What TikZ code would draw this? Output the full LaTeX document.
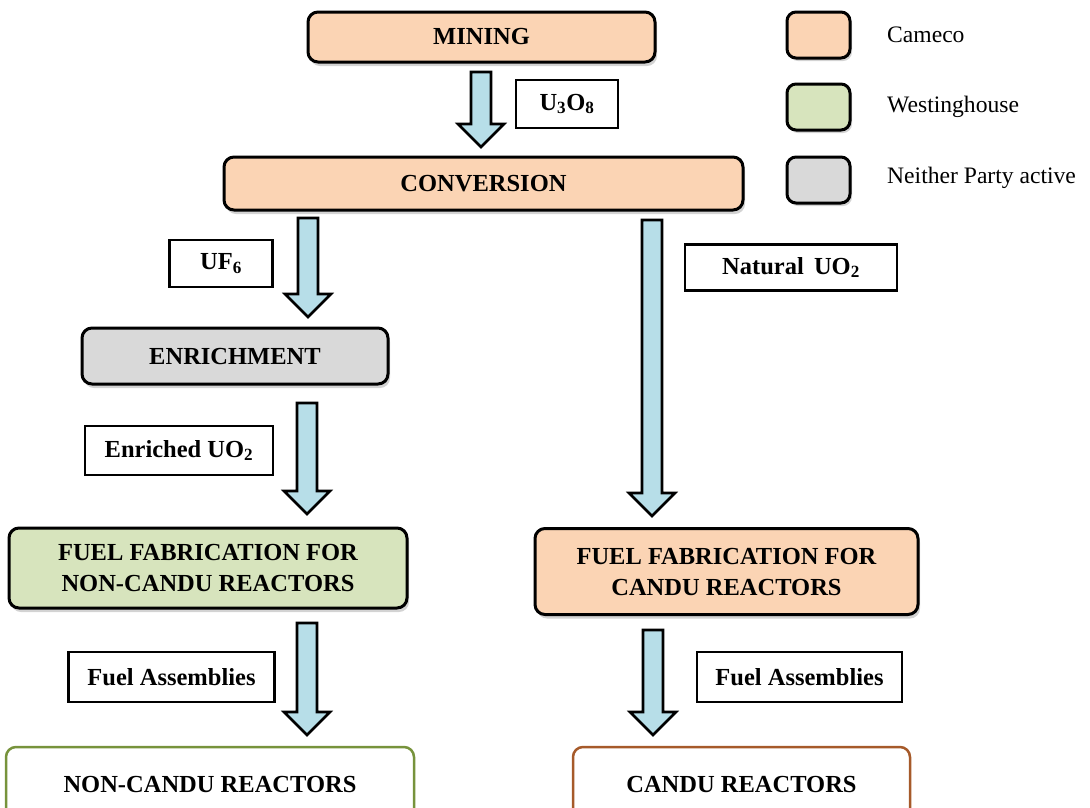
\documentclass[tikz,border=0pt]{standalone}
\usepackage{fontspec}
\setmainfont{Liberation Serif}
\usetikzlibrary{calc,shadows}
\definecolor{cam}{HTML}{FBD4B4}
\definecolor{wes}{HTML}{D7E4BD}
\definecolor{nei}{HTML}{D9D9D9}
\definecolor{arr}{HTML}{B7DEE8}
\definecolor{olive}{HTML}{77933C}
\definecolor{brownb}{HTML}{A65A2A}
\tikzset{
  proc/.style={draw=black, line width=3pt, rounded corners=10pt, align=center, inner sep=0pt,
    font=\fontsize{24.5}{31}\selectfont\bfseries,
    drop shadow={shadow xshift=2pt, shadow yshift=-4pt, opacity=0.35}},
  lbl/.style={draw=black, line width=2.2pt, fill=white, inner sep=0pt,
    font=\fontsize{24.5}{28}\selectfont\bfseries},
  endbox/.style={line width=2.5pt, rounded corners=10pt, fill=white, inner sep=0pt,
    font=\fontsize{24.5}{28}\selectfont\bfseries},
  legbox/.style={draw=black, line width=3pt, rounded corners=9pt, minimum width=63pt, minimum height=46pt,
    drop shadow={shadow xshift=2pt, shadow yshift=-3pt, opacity=0.35}},
  legtxt/.style={anchor=west, inner sep=0pt, font=\fontsize{23.6}{27}\selectfont},
  barrow/.style={draw=black, fill=arr, line width=2.6pt, line join=miter}
}
\newcommand\blockarrow[2]{\draw[barrow] let \p1=(#1), \p2=(#2) in
  (\x1-10pt,\y1) -- (\x1+10pt,\y1) -- (\x1+10pt,\y2+23pt) -- (\x1+23pt,\y2+23pt)
  -- (\x1,\y2) -- (\x1-23pt,\y2+23pt) -- (\x1-10pt,\y2+23pt) -- cycle;}
\begin{document}
\begin{tikzpicture}[x=1pt,y=-1pt]
\useasboundingbox (0,0) rectangle (1090,807);
% main boxes
\node[proc, fill=cam, minimum width=347pt, minimum height=50pt] (mining) at (481.5,37) {MINING};
\node[proc, fill=cam, minimum width=519pt, minimum height=53pt] (conv) at (483.5,183.5) {CONVERSION};
\node[proc, fill=nei, minimum width=306pt, minimum height=56pt] (enr) at (235,356) {ENRICHMENT};
\node[proc, fill=wes, minimum width=398pt, minimum height=80pt] (ffn) at (208,568) {FUEL FABRICATION FOR\\NON-CANDU REACTORS};
\node[proc, fill=cam, minimum width=383pt, minimum height=86pt] (ffc) at (726.5,571.5) {FUEL FABRICATION FOR\\CANDU REACTORS};
\node[endbox, draw=olive, minimum width=408pt, minimum height=75pt] (ncr) at (210,784.5) {NON-CANDU REACTORS};
\node[endbox, draw=brownb, minimum width=337pt, minimum height=75pt] (cr) at (741.5,784.5) {CANDU REACTORS};
% label boxes
\node[lbl, minimum width=102pt, minimum height=48pt] (l1) at (567,104) {U\textsubscript{3}O\textsubscript{8}};
\node[lbl, minimum width=103pt, minimum height=47pt] (l2) at (221,263.5) {UF\textsubscript{6}};
\node[lbl, minimum width=212pt, minimum height=46pt] (l3) at (791,267.5) {Natural\, UO\textsubscript{2}};
\node[lbl, minimum width=188pt, minimum height=49pt] (l4) at (179,450.5) {Enriched UO\textsubscript{2}};
\node[lbl, minimum width=206pt, minimum height=50pt] (l5) at (171.5,677) {Fuel Assemblies};
\node[lbl, minimum width=205pt, minimum height=50pt] (l6) at (799.5,677) {Fuel Assemblies};
% legend
\node[legbox, fill=cam] (g1) at (818.5,35) {};
\node[legbox, fill=wes] (g2) at (818.5,107) {};
\node[legbox, fill=nei] (g3) at (818.5,180) {};
\node[legtxt] (t1) at (887,35) {Cameco};
\node[legtxt] (t2) at (887,107) {Westinghouse};
\node[legtxt] (t3) at (887,178) {Neither Party active};
% arrows
\coordinate (a1s) at (481,72);  \coordinate (a1e) at (481,147);
\coordinate (a2s) at (308,218); \coordinate (a2e) at (308,317);
\coordinate (a3s) at (652,220); \coordinate (a3e) at (652,516);
\coordinate (a4s) at (307,403); \coordinate (a4e) at (307,514);
\coordinate (a5s) at (307,623); \coordinate (a5e) at (307,735);
\coordinate (a6s) at (653,630); \coordinate (a6e) at (653,735);
\blockarrow{a1s}{a1e}
\blockarrow{a2s}{a2e}
\blockarrow{a3s}{a3e}
\blockarrow{a4s}{a4e}
\blockarrow{a5s}{a5e}
\blockarrow{a6s}{a6e}
\end{tikzpicture}
\end{document}
